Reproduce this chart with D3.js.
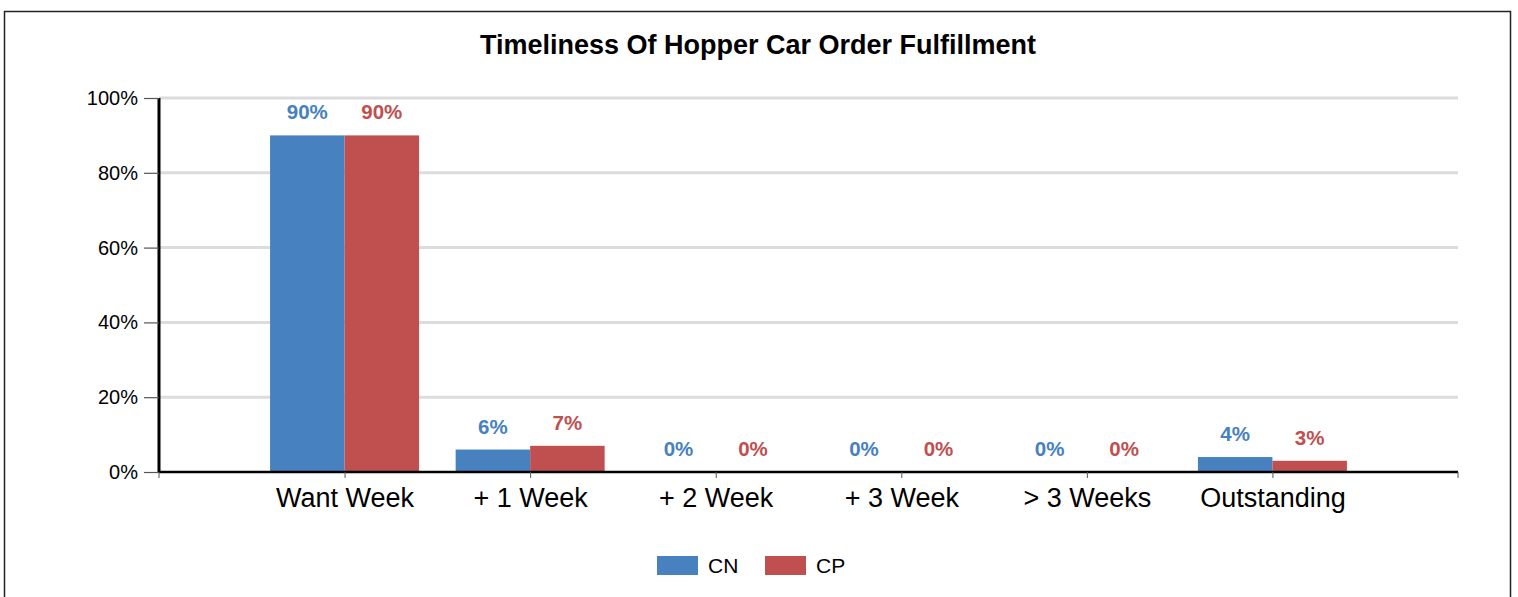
<!DOCTYPE html>
<html>
<head>
<meta charset="utf-8">
<script src="https://cdn.jsdelivr.net/npm/d3@7"></script>
<style>
  body { margin: 0; background: #fff; }
  svg { display: block; font-family: Arial, "Liberation Sans", sans-serif; }
</style>
</head>
<body>
<svg id="chart" width="1518" height="597"></svg>
<script>
// Chart data
const categories = ['Want Week', '+ 1 Week', '+ 2 Week', '+ 3 Week', '> 3 Weeks', 'Outstanding'];
const seriesNames = ['CN', 'CP'];
const cnValues = [90, 6, 0, 0, 0, 4];
const cpValues = [90, 7, 0, 0, 0, 3];
const yTicks = [0, 20, 40, 60, 80, 100];
const colors = ['#4781bf', '#c04f4f'];

const svg = d3.select('#chart');

// Outer frame
svg.append('rect')
  .attr('x', 4.5).attr('y', 11.5)
  .attr('width', 1506).attr('height', 600)
  .style('fill', 'none')
  .style('stroke', '#222')
  .style('stroke-width', 1.5);

// Title
svg.append('text')
  .attr('x', 758).attr('y', 54)
  .style('text-anchor', 'middle')
  .style('font-size', '27px')
  .style('font-weight', 'bold')
  .text('Timeliness Of Hopper Car Order Fulfillment');

// Scales
const plotLeft = 159, plotRight = 1458, plotTop = 98, plotBottom = 472;
const x = d3.scalePoint().domain(categories).range([plotLeft, plotRight]).padding(1);
const y = d3.scaleLinear().domain([0, 100]).range([plotBottom, plotTop]);
const barW = 74.5;

// Gridlines
svg.append('g')
  .selectAll('line')
  .data(yTicks.filter(d => d > 0))
  .join('line')
  .attr('x1', plotLeft).attr('x2', plotRight)
  .attr('y1', y).attr('y2', y)
  .style('stroke', '#dcdcdc')
  .style('stroke-width', 3);

// Bars
const bars = [];
categories.forEach((c, i) => [cnValues[i], cpValues[i]].forEach((v, s) => bars.push({ cat: c, v, s })));

svg.append('g')
  .selectAll('rect')
  .data(bars)
  .join('rect')
  .attr('x', d => x(d.cat) + (d.s - 1) * barW)
  .attr('y', d => y(d.v))
  .attr('width', barW)
  .attr('height', d => plotBottom - y(d.v))
  .style('fill', d => colors[d.s]);

// Value labels
svg.append('g')
  .selectAll('text')
  .data(bars)
  .join('text')
  .attr('x', d => x(d.cat) + (d.s - 0.5) * barW)
  .attr('y', d => y(d.v) - 16)
  .style('text-anchor', 'middle')
  .style('font-size', '20.5px')
  .style('font-weight', 'bold')
  .style('fill', d => colors[d.s])
  .text(d => d.v + '%');

// Y axis
const yAxis = svg.append('g')
  .attr('transform', `translate(${plotLeft},0)`)
  .call(d3.axisLeft(y).tickValues(yTicks).tickSize(15).tickPadding(6).tickFormat(d => d + '%'));
yAxis.select('.domain').style('stroke', '#000').style('stroke-width', 3)
  .attr('d', `M0,${plotTop}V${plotBottom}`);
yAxis.selectAll('.tick line').style('stroke', '#555').style('stroke-width', 1.2);
yAxis.selectAll('.tick text')
  .style('font-size', '20px')
  .style('font-family', 'Arial, "Liberation Sans", sans-serif')
  .style('fill', '#000');

// X axis
const xAxis = svg.append('g')
  .attr('transform', `translate(0,${plotBottom})`)
  .call(d3.axisBottom(x).tickSize(6).tickPadding(10));
xAxis.select('.domain').style('stroke', '#000').style('stroke-width', 2.5)
  .attr('d', `M${plotLeft},0H${plotRight}`);
xAxis.selectAll('.tick line').style('stroke', '#555');
xAxis.selectAll('.tick text')
  .style('font-size', '27px')
  .style('font-family', 'Arial, "Liberation Sans", sans-serif')
  .style('fill', '#000');
[plotLeft, plotRight].forEach(px => xAxis.append('line')
  .attr('x1', px).attr('x2', px).attr('y1', 0).attr('y2', 6)
  .style('stroke', '#555'));

// Legend
const legend = svg.append('g')
  .selectAll('g')
  .data(seriesNames)
  .join('g')
  .attr('transform', (d, i) => `translate(${657 + i * 108},556)`);
legend.append('rect')
  .attr('width', 41).attr('height', 19)
  .style('fill', (d, i) => colors[i]);
legend.append('text')
  .attr('x', 51).attr('y', 17)
  .style('font-size', '21px')
  .text(d => d);
</script>
</body>
</html>
